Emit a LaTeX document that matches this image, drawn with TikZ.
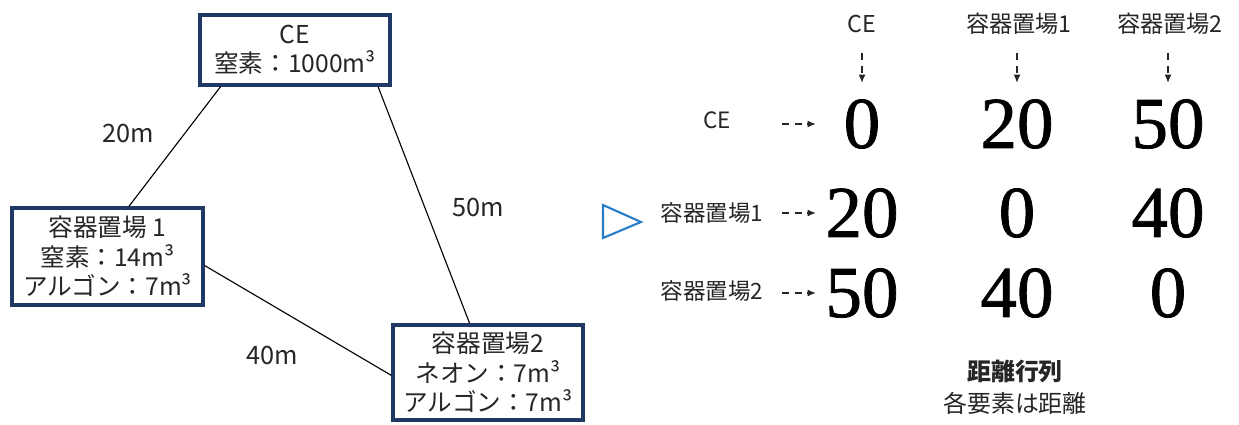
\documentclass[tikz,border=0pt]{standalone}
\usepackage{fontspec}
\setmainfont{Noto Sans CJK JP}
\newfontfamily\numfont[FakeBold=1]{Liberation Serif}
\usetikzlibrary{calc, arrows.meta}
\definecolor{boxblue}{RGB}{31,56,100}
\definecolor{triblue}{RGB}{40,125,200}
\definecolor{txtgray}{RGB}{38,38,38}

\begin{document}
\begin{tikzpicture}[x=0.025cm, y=-0.025cm,
    every node/.style={text=txtgray, font=\fontsize{16}{21}\selectfont},
    site/.style={draw=boxblue, line width=2.2pt, fill=white, align=center, inner sep=0pt,
        font=\fontsize{17.5}{21}\selectfont},
    gap/.style={font=\fontsize{18}{21}\selectfont},
    dist/.style={font=\fontsize{52}{52}\selectfont\numfont, text=black},
    dasharr/.style={-{Latex[length=6pt, width=5pt]}, dash pattern=on 5pt off 4pt, line width=1.1pt, draw=txtgray}]
            \useasboundingbox (0,0) rectangle (1239,425);

            % the three sites
            \node[site, minimum width=4.75cm, minimum height=1.75cm] (ce) at (295,50) {CE\\窒素：1000m³};
            \node[site, minimum width=4.775cm, minimum height=2.425cm] (s1) at (107.5,256.5) {容器置場 1\\窒素：14m³\\アルゴン：7m³};
            \node[site, minimum width=4.75cm, minimum height=2.375cm] (s2) at (488,372.5) {容器置場2\\ネオン：7m³\\アルゴン：7m³};

            \draw[thick] ($(ce.south west)!0.115!(ce.south east)$) -- ($(s1.north west)!0.61!(s1.north east)$);
            \draw[thick] ($(ce.south west)!0.93!(ce.south east)$) -- ($(s2.north west)!0.405!(s2.north east)$);
            \draw[thick] ($(s1.north east)!0.59!(s1.south east)$) -- ($(s2.north west)!0.53!(s2.south west)$);

            \node[gap] (l20) at (128,133) {20m};
            \node[gap] (l50) at (478,207) {50m};
            \node[gap] (l40) at (272,355) {40m};

            \draw[triblue, line width=1.5pt] (603,205) -- (641,222) -- (603,238) -- cycle;

            % distance matrix
            \node[font=\fontsize{16.5}{21}\selectfont] (hce) at (862,24) {CE};
            \node[font=\fontsize{16.5}{21}\selectfont] (h1) at (1019,24) {容器置場1};
            \node[font=\fontsize{16.5}{21}\selectfont] (h2) at (1170,24) {容器置場2};
            \node (rce) at (717,120) {CE};
            \node (r1) at (712,213) {容器置場1};
            \node (r2) at (712,291) {容器置場2};

            \node[dist] (m11) at (862,124) {0};
            \node[dist] (m12) at (1017,124) {20};
            \node[dist] (m13) at (1168,124) {50};
            \node[dist] (m21) at (862,213) {20};
            \node[dist] (m22) at (1017,213) {0};
            \node[dist] (m23) at (1168,213) {40};
            \node[dist] (m31) at (862,293) {50};
            \node[dist] (m32) at (1017,293) {40};
            \node[dist] (m33) at (1168,293) {0};

            \coordinate (cs) at (0,53);
            \coordinate (cend) at (0,83);
            \coordinate (rs) at (782,0);
            \coordinate (rend) at (816,0);
            \draw[dasharr] (m11 |- cs) -- (m11 |- cend);
            \draw[dasharr] (m12 |- cs) -- (m12 |- cend);
            \draw[dasharr] (m13 |- cs) -- (m13 |- cend);
            \draw[dasharr] (m11 -| rs) -- (m11 -| rend);
            \draw[dasharr] (m21 -| rs) -- (m21 -| rend);
            \draw[dasharr] (m31 -| rs) -- (m31 -| rend);

            \node[font=\fontsize{17}{21}\selectfont\bfseries] (ttl) at (1015,371) {距離行列};
            \node[font=\fontsize{17}{21}\selectfont] (sub) at (1015,403) {各要素は距離};
\end{tikzpicture}
\end{document}
